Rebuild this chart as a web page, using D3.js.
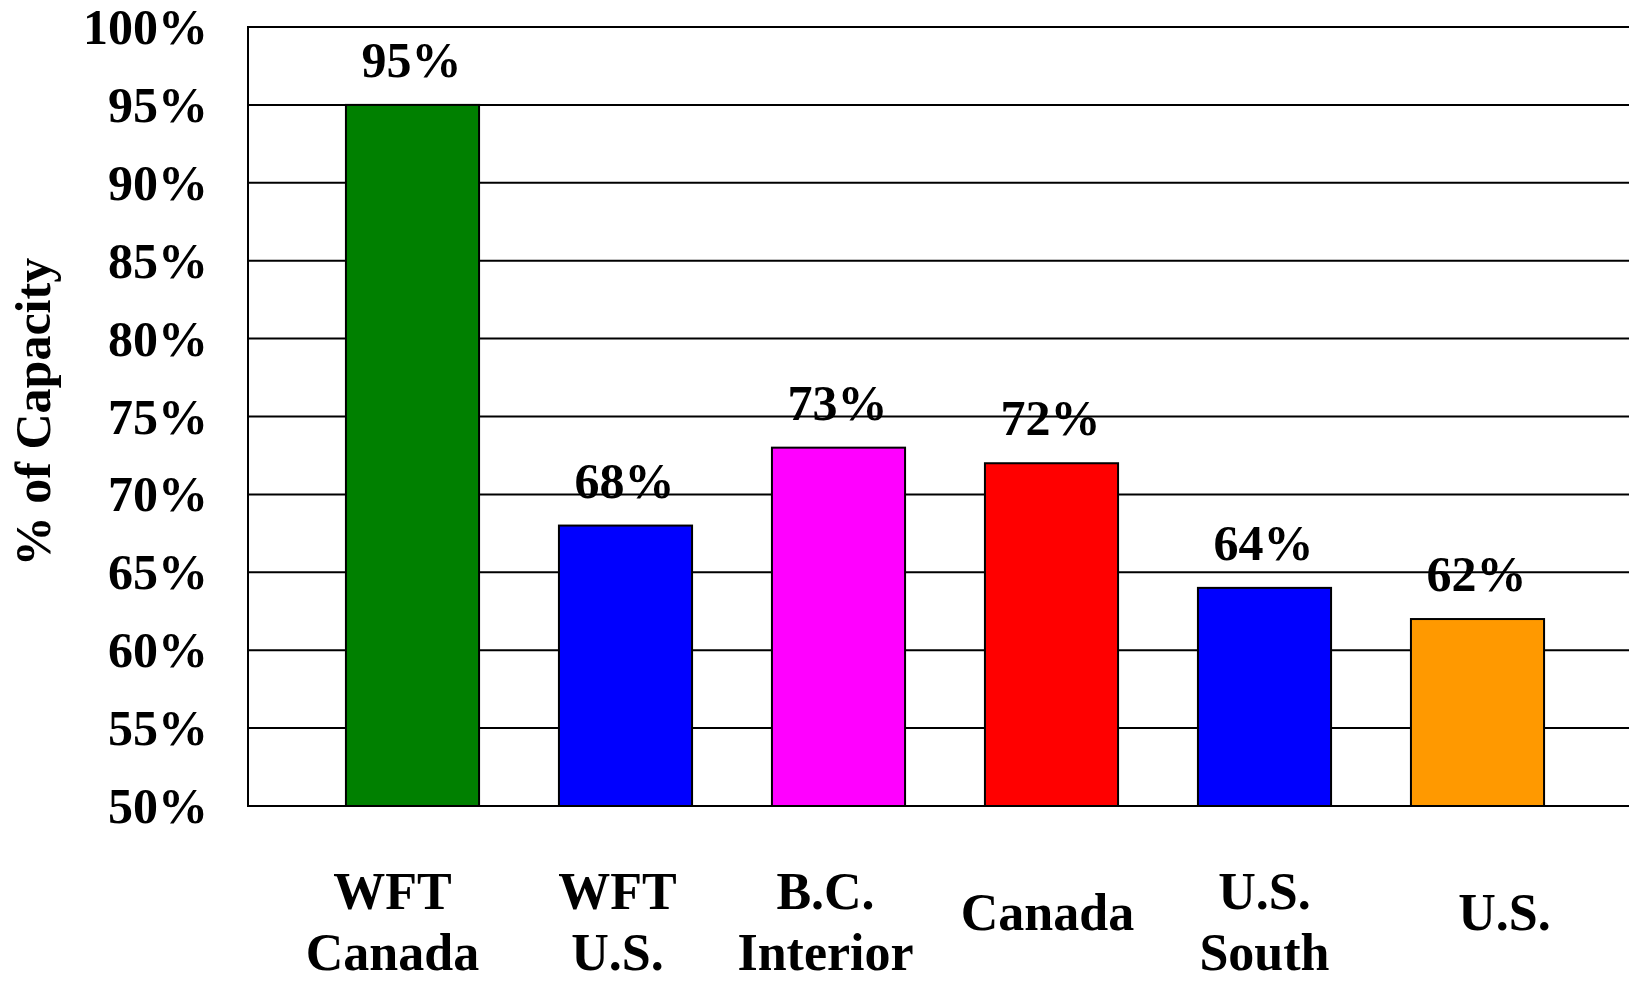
<!DOCTYPE html>
<html lang="en">
<head>
  <meta charset="UTF-8">
  <title>% of Capacity</title>
  <script src="https://d3js.org/d3.v7.min.js"></script>
  <style>
    body { margin: 0; background: #fff; }
    text {
      font-family: "Liberation Serif", "Times New Roman", serif;
      font-weight: bold;
      fill: #000;
    }
    .grid line { stroke: #000; stroke-width: 2px; }
    .bar { stroke: #000; stroke-width: 2px; }
  </style>
</head>
<body>
  <svg id="chart"></svg>
  <script>
    // chart data
    const categories = [["WFT", "Canada"], ["WFT", "U.S."], ["B.C.", "Interior"], ["Canada"], ["U.S.", "South"], ["U.S."]];
    const values = [95, 68, 73, 72, 64, 62];
    const barColors = ["#008000", "#0000FF", "#FF00FF", "#FF0000", "#0000FF", "#FF9900"];
    const yTicks = [50, 55, 60, 65, 70, 75, 80, 85, 90, 95, 100];

    const width = 1629, height = 981;
    const plot = { left: 248, top: 27, right: 1629, bottom: 806 };
    // labels in the original are not quite centred under their bars
    const labelShift = [-20, -8, -13, -4, 0, 27];

    const svg = d3.select("#chart").attr("width", width).attr("height", height);

    const y = d3.scaleLinear().domain([50, 100]).range([plot.bottom, plot.top]);
    const x = d3.scaleBand()
      .domain(d3.range(values.length))
      .range([306, 1584])
      .paddingInner(0.375)
      .paddingOuter(0.1875);

    // gridlines
    svg.append("g").attr("class", "grid")
      .selectAll("line")
      .data(yTicks)
      .join("line")
      .attr("x1", plot.left).attr("x2", plot.right)
      .attr("y1", d => y(d)).attr("y2", d => y(d));

    // left border
    svg.append("line")
      .attr("x1", plot.left).attr("x2", plot.left)
      .attr("y1", plot.top - 1).attr("y2", plot.bottom + 1)
      .attr("stroke", "#000").attr("stroke-width", 2);

    // y tick labels
    svg.append("g")
      .selectAll("text")
      .data(yTicks)
      .join("text")
      .attr("x", 208)
      .attr("y", d => y(d) + 17)
      .attr("text-anchor", "end")
      .style("font-size", "50px")
      .text(d => d + "%");

    // axis title
    svg.append("text")
      .attr("transform", "translate(50,412) rotate(-90)")
      .attr("text-anchor", "middle")
      .style("font-size", "50px")
      .text("% of Capacity");

    // bars
    svg.append("g")
      .selectAll("rect")
      .data(values)
      .join("rect")
      .attr("class", "bar")
      .attr("x", (d, i) => x(i))
      .attr("width", x.bandwidth())
      .attr("y", d => y(d))
      .attr("height", d => y(50) - y(d))
      .attr("fill", (d, i) => barColors[i]);

    // value labels
    svg.append("g")
      .selectAll("text")
      .data(values)
      .join("text")
      .attr("x", (d, i) => x(i) + x.bandwidth() / 2 - 1)
      .attr("y", d => y(d) - 28)
      .attr("text-anchor", "middle")
      .style("font-size", "50px")
      .text(d => d + "%");

    // category labels
    const cat = svg.append("g")
      .selectAll("text")
      .data(categories)
      .join("text")
      .attr("text-anchor", "middle")
      .style("font-size", "52px")
      .attr("x", (d, i) => x(i) + x.bandwidth() / 2 + labelShift[i])
      .attr("y", d => d.length > 1 ? 909 : 930);

    cat.selectAll("tspan")
      .data(d => d)
      .join("tspan")
      .attr("x", function () { return d3.select(this.parentNode).attr("x"); })
      .attr("dy", (d, i) => i === 0 ? 0 : 61)
      .text(d => d);
  </script>
</body>
</html>
